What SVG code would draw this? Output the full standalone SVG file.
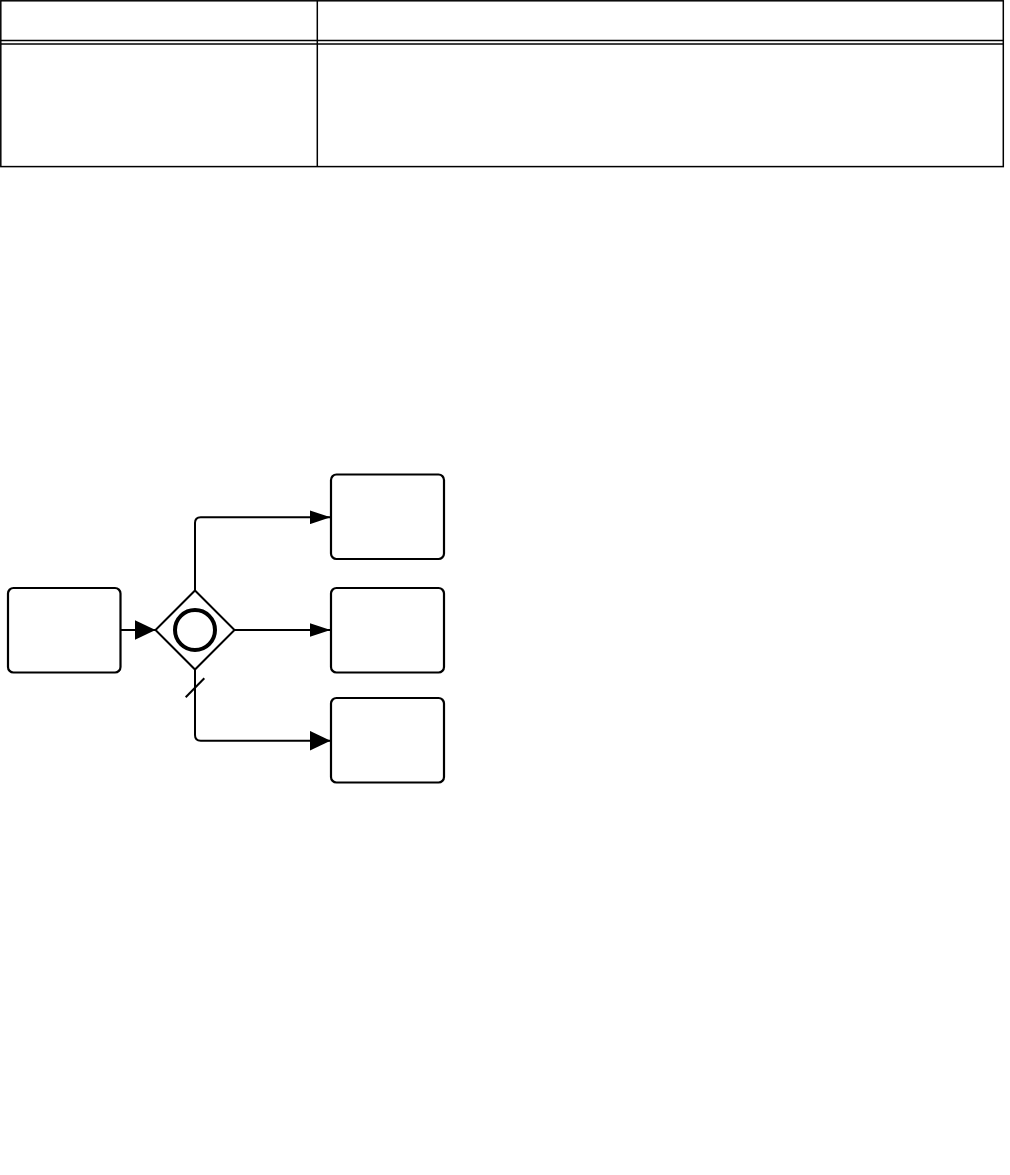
<svg xmlns="http://www.w3.org/2000/svg" width="1010" height="1175" viewBox="0 0 1010 1175">
  <style>
    .tbl { fill: none; stroke: #000; stroke-width: 1.5; }
    .task { fill: #fff; stroke: #000; stroke-width: 2.2; }
    .gw { fill: #fff; stroke: #000; stroke-width: 2; }
    .flow { fill: none; stroke: #000; stroke-width: 2; }
  </style>
  <defs>
    <marker id="arrowS" viewBox="0 0 21 14" refX="21" refY="7" markerWidth="21" markerHeight="14" markerUnits="userSpaceOnUse" orient="auto">
      <path d="M0,0 L21,7 L0,14 Z" fill="#000"/>
    </marker>
    <marker id="arrowL" viewBox="0 0 21 20" refX="21" refY="10" markerWidth="21" markerHeight="20" markerUnits="userSpaceOnUse" orient="auto">
      <path d="M0,0 L21,10 L0,20 Z" fill="#000"/>
    </marker>
  </defs>
  <rect width="1010" height="1175" fill="#fff"/>
  <g id="table">
    <rect class="tbl" x="0.8" y="0.8" width="1002.5" height="165.8"/>
    <line class="tbl" x1="0.8" y1="40.5" x2="1003.3" y2="40.5"/>
    <line class="tbl" x1="0.8" y1="44" x2="1003.3" y2="44"/>
    <line class="tbl" x1="317.3" y1="0.8" x2="317.3" y2="166.6"/>
  </g>
  <g id="connectors">
    <path class="flow" d="M120.5,630 L155.5,630" marker-end="url(#arrowL)"/>
    <path class="flow" d="M195,590.5 L195,523 Q195,517.3 200.7,517.3 L330.5,517.3" marker-end="url(#arrowS)"/>
    <path class="flow" d="M234.5,630 L330.5,630" marker-end="url(#arrowS)"/>
    <path class="flow" d="M195,669.5 L195,735 Q195,740.7 200.7,740.7 L330.5,740.7" marker-end="url(#arrowL)"/>
    <line class="flow" x1="185.7" y1="697.3" x2="204.3" y2="678.3"/>
  </g>
  <g id="task-start">
    <rect class="task" x="8" y="588" width="112.5" height="84.5" rx="5.5"/>
  </g>
  <g id="gateway">
    <polygon class="gw" points="195,590.5 234.5,630 195,669.5 155.5,630"/>
    <circle cx="195" cy="630" r="20" fill="none" stroke="#000" stroke-width="4"/>
  </g>
  <g id="task-top">
    <rect class="task" x="331" y="474.5" width="113" height="84.5" rx="5.5"/>
  </g>
  <g id="task-middle">
    <rect class="task" x="331" y="588" width="113" height="84.5" rx="5.5"/>
  </g>
  <g id="task-bottom">
    <rect class="task" x="331" y="698" width="113" height="84.5" rx="5.5"/>
  </g>
</svg>
